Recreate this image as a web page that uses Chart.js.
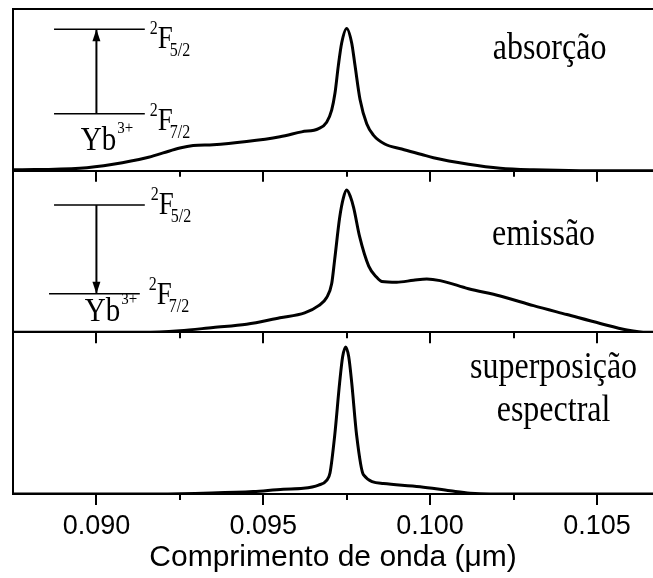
<!DOCTYPE html>
<html>
<head>
<meta charset="utf-8">
<script src="https://cdn.jsdelivr.net/npm/chart.js@4.4.1/dist/chart.umd.min.js"></script>
<style>
  html, body { margin: 0; padding: 0; background: #fff; }
  #wrap { width: 653px; height: 578px; position: relative; }
</style>
</head>
<body>
<div id="wrap"><canvas id="chartCanvas"></canvas></div>
<script>
// --- data: wavelength (um) and normalized intensity ---
const absWl  = [0.0875, 0.0895, 0.0905, 0.0915, 0.0920, 0.0925, 0.0929, 0.0935, 0.0945, 0.0955, 0.09615, 0.09666, 0.0969, 0.09705, 0.09715, 0.09725, 0.09735, 0.0975, 0.09765, 0.09775, 0.0979, 0.0981, 0.0983, 0.09864, 0.09915, 0.09975, 0.1001, 0.10115, 0.1021, 0.1031, 0.1045, 0.1067];
const absVal = [0.005, 0.015, 0.04, 0.08, 0.11, 0.14, 0.155, 0.16, 0.18, 0.21, 0.24, 0.26, 0.30, 0.375, 0.48, 0.65, 0.79, 0.88, 0.79, 0.65, 0.44, 0.29, 0.22, 0.165, 0.134, 0.10, 0.08, 0.04, 0.015, 0.005, 0, 0];

const emiWl  = [0.0875, 0.0914, 0.0925, 0.0935, 0.0945, 0.0955, 0.09624, 0.09666, 0.0969, 0.09705, 0.09714, 0.09729, 0.0974, 0.0975, 0.09761, 0.09771, 0.09789, 0.09816, 0.0984, 0.09855, 0.0990, 0.0995, 0.0999, 0.1003, 0.10115, 0.1021, 0.1031, 0.1041, 0.1051, 0.1059, 0.1065, 0.1067];
const emiVal = [0, 0, 0.01, 0.03, 0.05, 0.09, 0.12, 0.165, 0.215, 0.30, 0.45, 0.71, 0.83, 0.88, 0.84, 0.77, 0.59, 0.41, 0.34, 0.315, 0.31, 0.322, 0.33, 0.32, 0.27, 0.225, 0.165, 0.11, 0.055, 0.015, 0, 0];

const supWl  = [0.0875, 0.0917, 0.0932, 0.0947, 0.0956, 0.0962, 0.09666, 0.0969, 0.0970, 0.09714, 0.09729, 0.09738, 0.09747, 0.09756, 0.09765, 0.0978, 0.0980, 0.0986, 0.0997, 0.1006, 0.1012, 0.1018, 0.1067];
const supVal = [0, 0, 0.005, 0.015, 0.03, 0.035, 0.055, 0.085, 0.13, 0.36, 0.69, 0.85, 0.91, 0.85, 0.69, 0.36, 0.12, 0.065, 0.045, 0.02, 0.005, 0, 0];

const xLabelTicks = [0.090, 0.095, 0.100, 0.105];
const xAllTicks = [0.0900, 0.0925, 0.0950, 0.0975, 0.1000, 0.1025, 0.1050];

const panelLabels = ["absorção", "emissão", ["superposição", "espectral"]];

const toPoints = (xs, ys) => xs.map((x, i) => ({ x, y: ys[i] }));

const SERIF = "'Liberation Serif', 'Times New Roman', serif";

// tick marks under every panel (major long, minor short)
const panelTicks = {
  id: "panelTicks",
  afterDraw(chart) {
    const ctx = chart.ctx, xs = chart.scales.x;
    ctx.save();
    ctx.strokeStyle = "#000";
    ctx.lineWidth = 2;
    ["yA", "yE", "yS"].forEach(id => {
      const yb = chart.scales[id].bottom;
      xAllTicks.forEach((v, i) => {
        const px = Math.round(xs.getPixelForValue(v));
        const major = i % 2 === 0;
        ctx.beginPath();
        ctx.moveTo(px, yb);
        ctx.lineTo(px, yb + (major ? 11 : 6));
        ctx.stroke();
      });
    });
    ctx.restore();
  }
};

// serif text slightly stretched vertically, like the scanned figure
function tallText(ctx, text, x, y, size, sy) {
  ctx.save();
  ctx.font = size + "px " + SERIF;
  ctx.translate(x, y);
  ctx.scale(1, sy);
  ctx.fillText(text, 0, 0);
  ctx.restore();
}

function drawTerm(ctx, x, y, sup, main, sub, mainSize) {
  const small = Math.round(mainSize * 0.58);
  ctx.textAlign = "left";
  ctx.textBaseline = "alphabetic";
  ctx.font = small + "px " + SERIF;
  const w1 = ctx.measureText(sup).width;
  tallText(ctx, sup, x, y - mainSize * 0.5, small, 1.15);
  ctx.font = mainSize + "px " + SERIF;
  const w2 = ctx.measureText(main).width;
  tallText(ctx, main, x + w1, y, mainSize, 1.15);
  if (sub) tallText(ctx, sub, x + w1 + w2 - 3, y + 8, small, 1.15);
}

function drawYb(ctx, x, y) {
  ctx.textAlign = "left";
  ctx.textBaseline = "alphabetic";
  ctx.font = "29px " + SERIF;
  const w = ctx.measureText("Yb").width;
  tallText(ctx, "Yb", x, y, 29, 1.15);
  tallText(ctx, "3+", x + w + 1, y - 17, 15, 1.15);
}

function arrow(ctx, x, y1, y2) {
  ctx.lineWidth = 2;
  ctx.beginPath();
  ctx.moveTo(x, y1);
  ctx.lineTo(x, y2);
  ctx.stroke();
  const dir = y2 < y1 ? 1 : -1;
  ctx.beginPath();
  ctx.moveTo(x, y2);
  ctx.lineTo(x - 4, y2 + dir * 12);
  ctx.lineTo(x + 4, y2 + dir * 12);
  ctx.closePath();
  ctx.fill();
}

const annotations = {
  id: "annotations",
  afterDraw(chart) {
    const ctx = chart.ctx, xs = chart.scales.x;
    const yA = chart.scales.yA, yE = chart.scales.yE, yS = chart.scales.yS;
    const X = v => xs.getPixelForValue(v);
    ctx.save();
    ctx.fillStyle = "#000";
    ctx.strokeStyle = "#000";

    // absorption sketch
    ctx.lineWidth = 1.5;
    ctx.beginPath();
    ctx.moveTo(X(0.08873), yA.getPixelForValue(0.874)); ctx.lineTo(X(0.09145), yA.getPixelForValue(0.874));
    ctx.moveTo(X(0.08873), yA.getPixelForValue(0.352)); ctx.lineTo(X(0.09145), yA.getPixelForValue(0.352));
    ctx.stroke();
    arrow(ctx, X(0.0900), yA.getPixelForValue(0.352), yA.getPixelForValue(0.874));
    drawTerm(ctx, X(0.0916), yA.getPixelForValue(0.761), "2", "F", "5/2", 27);
    drawTerm(ctx, X(0.0916), yA.getPixelForValue(0.252), "2", "F", "7/2", 27);
    drawYb(ctx, X(0.08953), yA.getPixelForValue(0.126));

    // emission sketch
    ctx.lineWidth = 1.5;
    ctx.beginPath();
    ctx.moveTo(X(0.08873), yE.getPixelForValue(0.787)); ctx.lineTo(X(0.09145), yE.getPixelForValue(0.787));
    ctx.moveTo(X(0.08858), yE.getPixelForValue(0.238)); ctx.lineTo(X(0.09130), yE.getPixelForValue(0.238));
    ctx.stroke();
    arrow(ctx, X(0.0900), yE.getPixelForValue(0.787), yE.getPixelForValue(0.238));
    drawTerm(ctx, X(0.09163), yE.getPixelForValue(0.732), "2", "F", "5/2", 27);
    drawTerm(ctx, X(0.09157), yE.getPixelForValue(0.177), "2", "F", "7/2", 27);
    drawYb(ctx, X(0.08965), yE.getPixelForValue(0.073));

    // captions
    ctx.textAlign = "center";
    ctx.textBaseline = "alphabetic";
    tallText(ctx, panelLabels[0], X(0.10358), yA.getPixelForValue(0.69), 32, 1.2);
    tallText(ctx, panelLabels[1], X(0.1034), yE.getPixelForValue(0.54), 32, 1.2);
    tallText(ctx, panelLabels[2][0], X(0.1037), yS.getPixelForValue(0.716), 32, 1.2);
    tallText(ctx, panelLabels[2][1], X(0.1037), yS.getPixelForValue(0.45), 32, 1.2);
    ctx.restore();
  }
};

function panelAxis() {
  return {
    type: "linear",
    position: "left",
    stack: "panels",
    stackWeight: 1,
    min: 0,
    max: 1,
    afterBuildTicks: s => { s.ticks = [{ value: 0 }, { value: 1 }]; },
    afterFit: s => { s.width = 0; },
    ticks: { display: false },
    grid: { color: "#000", lineWidth: 2, drawTicks: false },
    border: { display: true, color: "#000", width: 2 }
  };
}

function curve(label, xs, ys, axis) {
  return {
    label,
    data: toPoints(xs, ys),
    yAxisID: axis,
    borderColor: "#000",
    borderWidth: 3,
    pointRadius: 0,
    fill: false,
    cubicInterpolationMode: "monotone"
  };
}

const canvas = document.getElementById("chartCanvas");

new Chart(canvas, {
  type: "line",
  data: {
    datasets: [
      curve("absorção", absWl, absVal, "yA"),
      curve("emissão", emiWl, emiVal, "yE"),
      curve("superposição espectral", supWl, supVal, "yS")
    ]
  },
  options: {
    responsive: true,
    maintainAspectRatio: false,
    animation: false,
    layout: { padding: { left: 13, right: 0, top: 9, bottom: 0 } },
    plugins: { legend: { display: false }, tooltip: { enabled: false } },
    scales: {
      x: {
        type: "linear",
        min: 0.0875,
        max: 0.10668,
        afterBuildTicks: s => { s.ticks = xLabelTicks.map(v => ({ value: v })); },
        afterFit: s => { s.height = 84; },
        grid: { display: false, drawTicks: false },
        border: { display: false },
        ticks: {
          padding: 16,
          color: "#000",
          font: { family: "'Liberation Sans', Arial, sans-serif", size: 27 },
          callback: v => Number(v).toFixed(3),
          autoSkip: false,
          maxRotation: 0
        },
        title: {
          display: true,
          text: "Comprimento de onda (μm)",
          color: "#000",
          font: { family: "'Liberation Sans', Arial, sans-serif", size: 30 },
          padding: { top: 0, bottom: 2 }
        }
      },
      // stacked panels: the first one listed ends up at the bottom
      yS: panelAxis(),
      yE: panelAxis(),
      yA: panelAxis()
    }
  },
  plugins: [panelTicks, annotations]
});
</script>
</body>
</html>
